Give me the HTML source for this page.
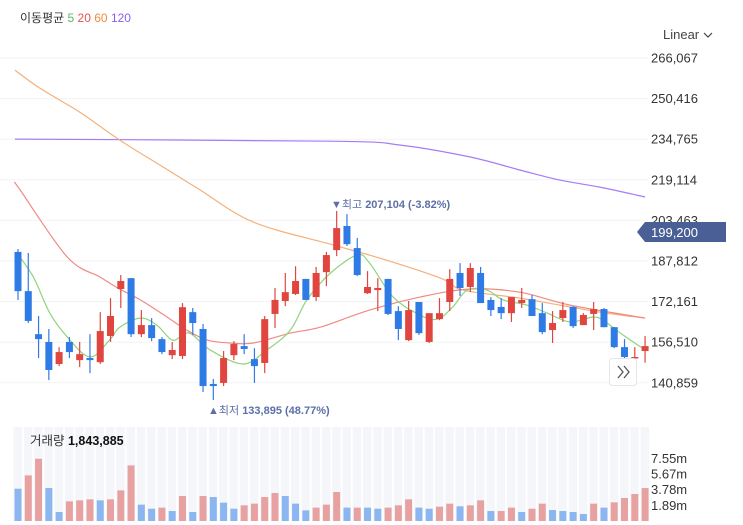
<!DOCTYPE html>
<html><head><meta charset="utf-8">
<style>
html,body{margin:0;padding:0;background:#fff;}
body{width:743px;height:525px;overflow:hidden;position:relative;font-family:"Liberation Sans","Noto Sans CJK KR",sans-serif;}
svg{position:absolute;left:0;top:0;}
</style></head>
<body>
<svg id="chart" width="743" height="525" viewBox="0 0 743 525" xmlns="http://www.w3.org/2000/svg">
  <g id="grid"></g>
  <g id="volbg"></g>
  <g id="lines"></g>
  <g id="candles"></g>
  <g id="vols"></g>
  <g id="yaxis"></g>
  <g id="vaxis"></g>
  <text x="20" y="22" font-size="12" fill="#333">이동평균 <tspan fill="#5cb85c">5</tspan> <tspan fill="#e4534e">20</tspan> <tspan fill="#f08c3c">60</tspan> <tspan fill="#8a5cf0">120</tspan></text>
  <g>
    <text x="663" y="39" font-size="13" fill="#444">Linear</text>
    <path d="M704 33 l4 4 l4 -4" stroke="#444" stroke-width="1.2" fill="none"/>
  </g>
  <text x="331" y="208" font-size="11" fill="#5c6fa6">▼최고 <tspan font-weight="bold">207,104 (-3.82%)</tspan></text>
  <text x="208" y="414" font-size="11" fill="#5c6fa6">▲최저 <tspan font-weight="bold">133,895 (48.77%)</tspan></text>
  <g>
    <path d="M645 222 H726 V242 H645 L637 232 Z" fill="#4a5f96"/>
    <text x="651" y="237" font-size="13" fill="#fff">199,200</text>
  </g>
  <g>
    <rect x="609.5" y="358.5" width="27" height="27" rx="3" fill="#fff" stroke="#e3e6ec"/>
    <path d="M618 366 l5 6 l-5 6 M624 366 l5 6 l-5 6" stroke="#555" stroke-width="1.3" fill="none"/>
  </g>
  <text x="30" y="445" font-size="12.5" fill="#333">거래량 <tspan font-weight="bold" fill="#111">1,843,885</tspan></text>
</svg>
<script>
const opens  = [191.3,176.2,159.6,156.6,148.1,156.6,149.6,150.4,148.8,158.9,177.0,181.2,159.6,163.1,157.7,151.5,151.2,168.1,161.6,140.4,140.8,151.5,155.0,150.0,148.5,167.4,172.4,175.1,180.9,173.9,183.5,192.0,201.3,192.8,175.4,176.6,180.9,168.5,157.3,172.0,156.6,165.4,172.0,183.2,177.8,183.2,172.8,170.1,167.7,171.6,173.1,167.7,161.2,165.8,170.1,163.1,167.4,169.3,162.3,154.6,150.4,153.1];
const highs  = [192.4,190.9,166.6,161.6,154.6,158.5,156.6,159.6,168.1,173.5,182.4,181.2,168.9,165.8,158.5,156.6,171.6,169.7,163.5,142.3,153.1,156.9,159.6,154.2,166.6,177.4,183.2,185.8,180.9,185.5,191.3,207.1,205.9,196.7,183.9,181.2,180.9,170.4,172.4,172.0,167.7,173.5,184.7,187.0,187.0,185.5,173.9,173.5,173.9,177.4,174.7,171.6,168.5,172.0,170.4,167.7,172.0,169.7,162.3,157.7,154.6,158.9];
const lows   = [172.8,163.9,150.4,141.9,147.3,150.4,146.9,144.6,148.1,156.6,169.7,158.5,158.5,156.9,151.9,150.0,150.0,159.3,137.3,134.2,139.6,149.6,151.9,140.8,144.6,162.0,170.4,174.7,172.8,172.4,178.1,189.7,193.6,182.0,175.1,168.5,167.0,157.3,156.9,159.3,156.2,165.0,168.5,174.3,175.8,171.6,166.6,165.4,164.3,169.7,166.6,159.6,156.2,164.3,162.0,163.1,161.2,162.3,154.2,150.4,150.4,148.6];
const closes = [176.2,164.7,157.7,145.8,152.7,152.7,151.9,149.6,160.8,166.6,180.1,159.6,163.1,158.1,152.7,153.5,170.0,163.9,139.6,139.6,150.4,155.8,153.9,147.3,165.4,172.8,175.8,180.1,172.8,183.2,190.1,200.5,194.3,182.4,177.8,177.4,167.4,161.6,168.9,160.0,167.7,167.7,180.9,177.4,185.1,171.6,168.9,167.7,173.9,172.8,166.6,160.4,163.9,168.9,162.7,167.0,169.3,162.3,154.6,150.8,150.8,155.0];
const volumes = [3.89,5.50,7.50,3.97,1.08,2.37,2.49,2.61,2.49,2.61,3.69,6.70,1.97,1.48,1.61,1.20,3.01,1.08,3.01,2.89,2.21,1.48,1.89,2.09,2.89,3.37,3.01,2.09,1.28,1.61,1.97,3.49,1.61,1.61,1.61,1.48,1.61,1.89,2.61,1.61,1.48,1.73,2.09,1.77,1.89,2.49,1.20,1.20,1.61,1.08,1.48,2.09,1.32,1.20,1.08,0.84,2.09,1.61,2.25,2.77,3.25,3.97];
const volUp = [0,1,1,0,0,1,1,1,0,1,1,1,0,0,1,0,1,0,1,0,0,0,1,1,1,1,0,0,0,1,1,1,0,1,0,0,1,1,1,0,0,1,1,0,1,1,0,1,1,0,1,1,0,0,0,0,1,0,1,1,1,1];
const ma5Idx = [-0.1,1.5,3.1,4.8,7.0,8.9,9.9,11.9,13.5,15.0,16.1,16.9,18.7,21.9,24.2,26.5,28.1,30.4,33.0,34.2,36.5,39.1,40.8,42.3,43.7,45.6,47.2,49.5,51.5,53.7,55.9,56.9,58.6,61.0];
const ma5Val = [190.9,181.6,167.7,158.5,150.8,157.3,162.3,165.8,163.1,157.3,159.6,159.6,153.5,148.1,153.5,161.2,172.8,183.2,190.1,187.0,173.9,167.0,165.4,170.1,176.6,176.6,172.8,170.8,167.7,164.3,166.2,165.0,160.0,153.5];
const ma20Idx = [-0.3,0.2,4.8,8.0,9.7,11.9,14.5,16.4,18.4,20.6,22.9,26.5,29.4,34.2,39.1,44.0,48.8,53.7,61.0];
const ma20Val = [217.9,215.2,189.3,181.6,177.4,172.8,166.2,161.2,157.3,156.2,156.2,160.0,162.3,168.9,173.9,177.0,175.8,170.8,165.8];
const ma60Idx = [-0.3,2.1,6.0,9.9,13.8,17.7,22.9,30.4,35.2,41.1,43.3,48.8,52.7,56.6,61.0];
const ma60Val = [261.4,254.5,245.2,234.4,224.8,215.2,202.8,194.3,188.9,181.2,176.6,173.5,170.8,168.1,165.8];
const ma120Idx = [-0.3,30.4,37.2,44.0,48.8,52.7,56.6,61.0];
const ma120Val = [234.8,234.0,232.5,227.9,222.9,219.0,216.3,212.5];
const priceTicks = ["266,067","250,416","234,765","219,114","203,463","187,812","172,161","156,510","140,859"];
const priceTickVals = [266.067,250.416,234.765,219.114,203.463,187.812,172.161,156.510,140.859];
const volTicks = ["7.55m","5.67m","3.78m","1.89m"];
const volTickVals = [7.55,5.67,3.78,1.89];

const NS = "http://www.w3.org/2000/svg";
const xOf = i => 18 + i * 10.28;
const yOf = v => 58 + (266.067 - v) * 2.594;
const vBase = 521;
const yVol = v => vBase - v * 8.3;
function mk(tag, attrs, parent){ const e=document.createElementNS(NS,tag); for(const k in attrs) e.setAttribute(k,attrs[k]); parent.appendChild(e); return e; }

const grid=document.getElementById('grid'), yaxis=document.getElementById('yaxis');
priceTickVals.forEach((v,i)=>{
  const l=mk('line',{x1:0,x2:648,y1:yOf(v),y2:yOf(v),stroke:'#f2f3f5','stroke-width':1},grid);
  
  
  const t=mk('text',{x:651,y:yOf(v)+4.5,'font-size':13,fill:'#333'},yaxis);
  t.textContent=priceTicks[i];
  
  
});
const volbg=document.getElementById('volbg');
for(let i=0;i<opens.length;i++){
  const r=mk('rect',{x:xOf(i)-4.5,y:427,width:8.5,height:94,fill:'#f4f6fa'},volbg);
  
  
}
const lines=document.getElementById('lines');
function drawLine(idx,val,color,name){
  const P=idx.map((k,j)=>[xOf(k),yOf(val[j])]);
  let d='M'+P[0][0].toFixed(1)+' '+P[0][1].toFixed(1);
  for(let j=0;j<P.length-1;j++){
    const p0=P[Math.max(0,j-1)],p1=P[j],p2=P[j+1],p3=P[Math.min(P.length-1,j+2)];
    const c1=[p1[0]+(p2[0]-p0[0])/6,p1[1]+(p2[1]-p0[1])/6];
    const c2=[p2[0]-(p3[0]-p1[0])/6,p2[1]-(p3[1]-p1[1])/6];
    d+=' C'+c1[0].toFixed(1)+' '+c1[1].toFixed(1)+' '+c2[0].toFixed(1)+' '+c2[1].toFixed(1)+' '+p2[0].toFixed(1)+' '+p2[1].toFixed(1);
  }
  const p=mk('path',{d:d,stroke:color,'stroke-width':1.2,fill:'none'},lines);
  
  
}
drawLine(ma120Idx,ma120Val,'#a57cf5','ma120-line');
drawLine(ma60Idx,ma60Val,'#f5b07a','ma60-line');
drawLine(ma20Idx,ma20Val,'#f08a85','ma20-line');
drawLine(ma5Idx,ma5Val,'#8fd47d','ma5-line');

const cg=document.getElementById('candles');
opens.forEach((o,i)=>{
  const c=closes[i], up=c>=o, col=up?'#e0463f':'#2f7be6';
  const x=xOf(i);
  const w=mk('line',{x1:x,x2:x,y1:yOf(highs[i]),y2:yOf(lows[i]),stroke:col,'stroke-width':1.2},cg);
  
  
  const top=yOf(Math.max(o,c)), bot=yOf(Math.min(o,c));
  const b=mk('rect',{x:x-3.5,y:top,width:7,height:Math.max(1.5,bot-top),fill:col},cg);
  
  
});
const vg=document.getElementById('vols');
volumes.forEach((v,i)=>{
  const r=mk('rect',{x:xOf(i)-3.5,y:yVol(v),width:7,height:vBase-yVol(v),fill:volUp[i]?'#e8a1a1':'#8cb6ef'},vg);
  
  
});
const va=document.getElementById('vaxis');
volTickVals.forEach((v,i)=>{
  const t=mk('text',{x:651,y:yVol(v)+4.5,'font-size':13,fill:'#333'},va);
  t.textContent=volTicks[i];
  
  
});
</script>
</body></html>
